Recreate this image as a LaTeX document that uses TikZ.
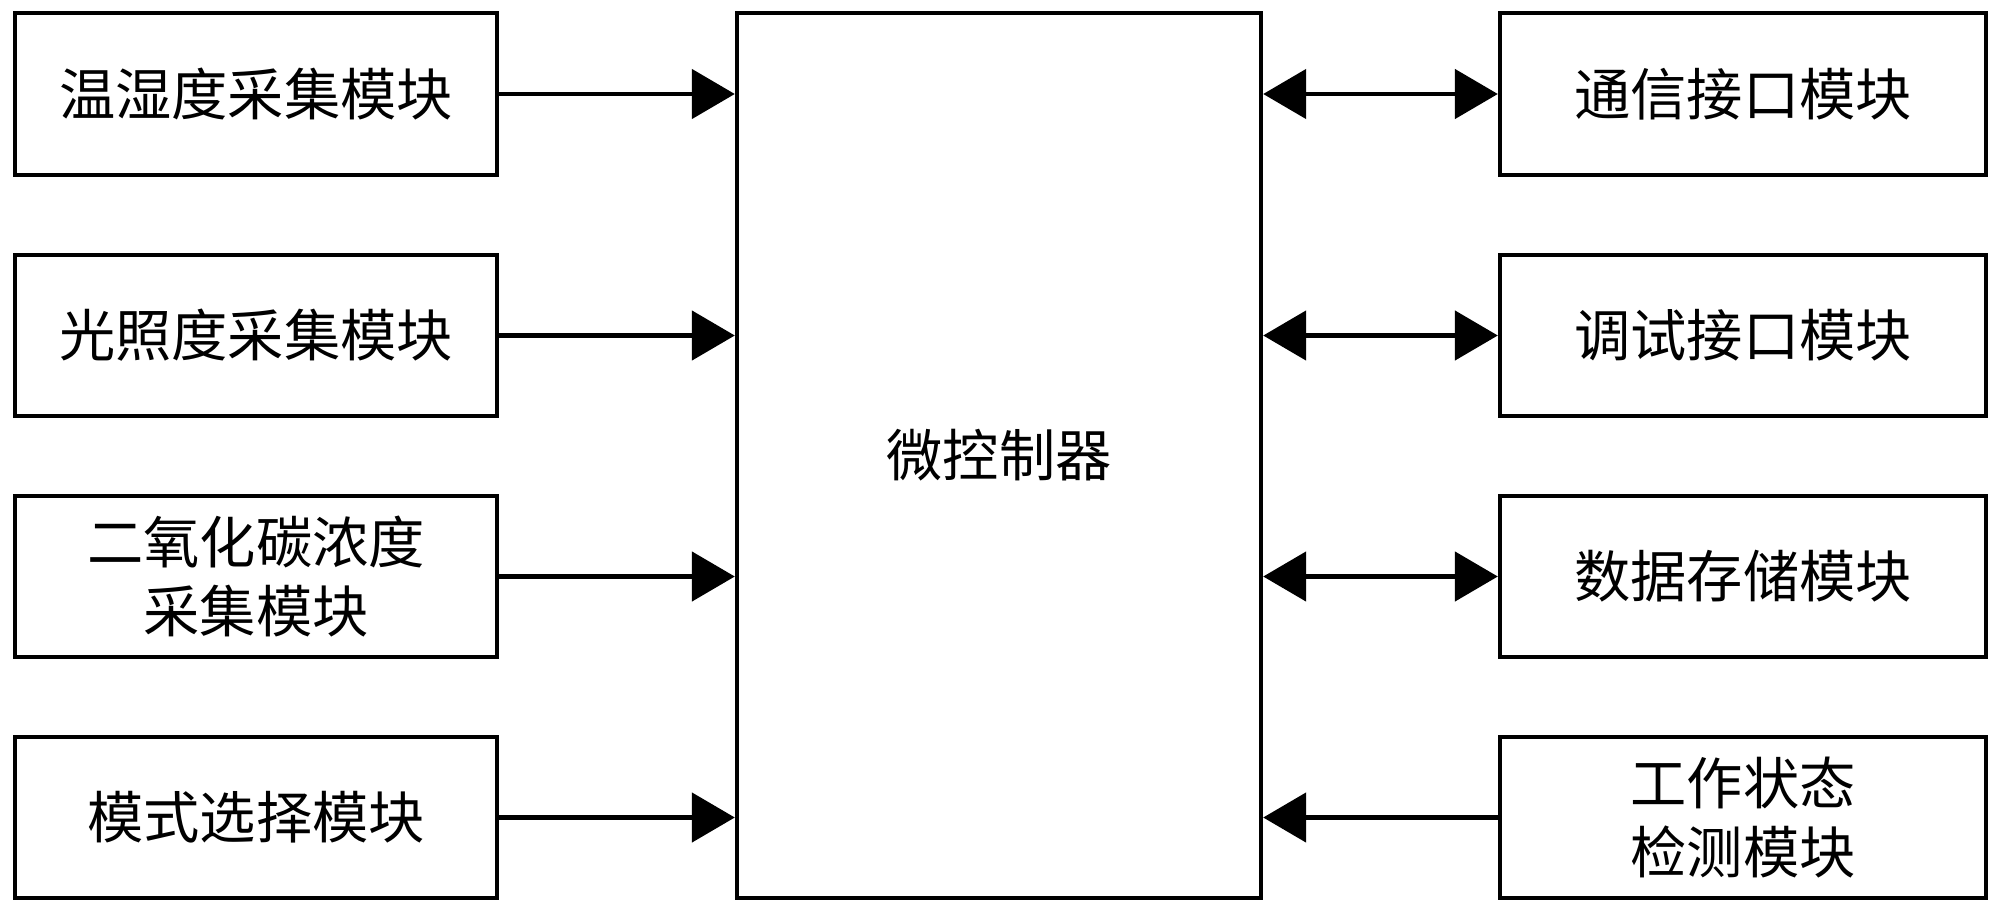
\documentclass[tikz,border=0pt]{standalone}
\usepackage{fontspec}
\setmainfont{Noto Sans CJK SC}
\usetikzlibrary{arrows.meta}
\tikzset{
  blk/.style={draw, line width=1.15pt, minimum width=4.82cm, minimum height=1.61cm, align=center, inner sep=0pt,
    font=\fontsize{16pt}{19.6pt}\selectfont},
  rblk/.style={blk, minimum width=4.86cm},
  tip/.tip={Triangle[length=4.3mm,width=4.9mm]},
  conn/.style={line width=1.4pt, -tip},
  biconn/.style={line width=1.4pt, tip-tip}
}
\begin{document}
\begin{tikzpicture}[x=0.01cm,y=-0.01cm]
\useasboundingbox (0,0) rectangle (2000,915);
\node[blk, minimum width=5.24cm, minimum height=8.85cm] (mcu) at (999,455.5) {微控制器};
\node[blk] (l1) at (256,94) {温湿度采集模块};
\node[blk] (l2) at (256,335.5) {光照度采集模块};
\node[blk] (l3) at (256,576.5) {二氧化碳浓度\\采集模块};
\node[blk] (l4) at (256,817.5) {模式选择模块};
\node[rblk] (r1) at (1743,94) {通信接口模块};
\node[rblk] (r2) at (1743,335.5) {调试接口模块};
\node[rblk] (r3) at (1743,576.5) {数据存储模块};
\node[rblk] (r4) at (1743,817.5) {工作状态\\检测模块};
\foreach \i in {1,2,3,4}{
  \draw[conn] (l\i.east) -- (l\i.east -| mcu.west);
}
\foreach \i in {1,2,3}{
  \draw[biconn] (r\i.west -| mcu.east) -- (r\i.west);
}
\draw[conn] (r4.west) -- (r4.west -| mcu.east);
\end{tikzpicture}
\end{document}
